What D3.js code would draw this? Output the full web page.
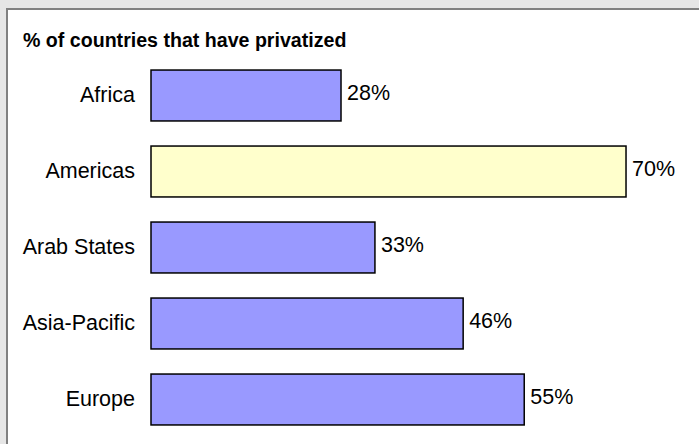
<!DOCTYPE html>
<html>
<head>
<meta charset="utf-8">
<script src="https://cdn.jsdelivr.net/npm/d3@7"></script>
<style>
  html, body { margin: 0; padding: 0; background: #e6e6e6; }
  svg { display: block; }
  text { font-family: "Liberation Sans", Arial, sans-serif; }
</style>
</head>
<body>
<script>
// Share of countries per region that have privatized
const regions = ["Africa", "Americas", "Arab States", "Asia-Pacific", "Europe"];
const shares = [28, 70, 33, 46, 55];
const highlighted = ["Americas"];
const title = "% of countries that have privatized";

const W = 699, H = 444;
const svg = d3.select("body").append("svg").attr("width", W).attr("height", H);

// panel
svg.append("rect").attr("x", 0).attr("y", 0).attr("width", W).attr("height", H).attr("fill", "#e6e6e6");
svg.append("rect").attr("x", 7).attr("y", 9).attr("width", W + 10).attr("height", H + 10)
  .attr("fill", "#ffffff").attr("stroke", "#808080").attr("stroke-width", 2);

svg.append("text").attr("x", 23).attr("y", 47)
  .attr("font-size", 19.6).attr("font-weight", "bold").attr("fill", "#000")
  .text(title);

const x = d3.scaleLinear().domain([0, 100]).range([151, 829.6]);
const y = d3.scaleBand().domain(regions).range([57.5, 437.5]).paddingInner(0.33).paddingOuter(0.165);

const data = regions.map((r, i) => ({ region: r, value: shares[i] }));

svg.selectAll("rect.bar").data(data).enter().append("rect")
  .attr("class", "bar")
  .attr("x", x(0))
  .attr("y", d => y(d.region))
  .attr("width", d => x(d.value) - x(0))
  .attr("height", y.bandwidth())
  .attr("fill", d => highlighted.includes(d.region) ? "#ffffcc" : "#9999ff")
  .attr("stroke", "#000").attr("stroke-width", 1.5);

svg.selectAll("text.cat").data(data).enter().append("text")
  .attr("class", "cat")
  .attr("x", x(0) - 16)
  .attr("y", d => y(d.region) + y.bandwidth() / 2 + 6.5)
  .attr("text-anchor", "end").attr("font-size", 21.5).attr("fill", "#000")
  .text(d => d.region);

svg.selectAll("text.val").data(data).enter().append("text")
  .attr("class", "val")
  .attr("x", d => x(d.value) + 6)
  .attr("y", d => y(d.region) + y.bandwidth() / 2 + 4.5)
  .attr("font-size", 21.5).attr("fill", "#000")
  .text(d => d.value + "%");
</script>
</body>
</html>
